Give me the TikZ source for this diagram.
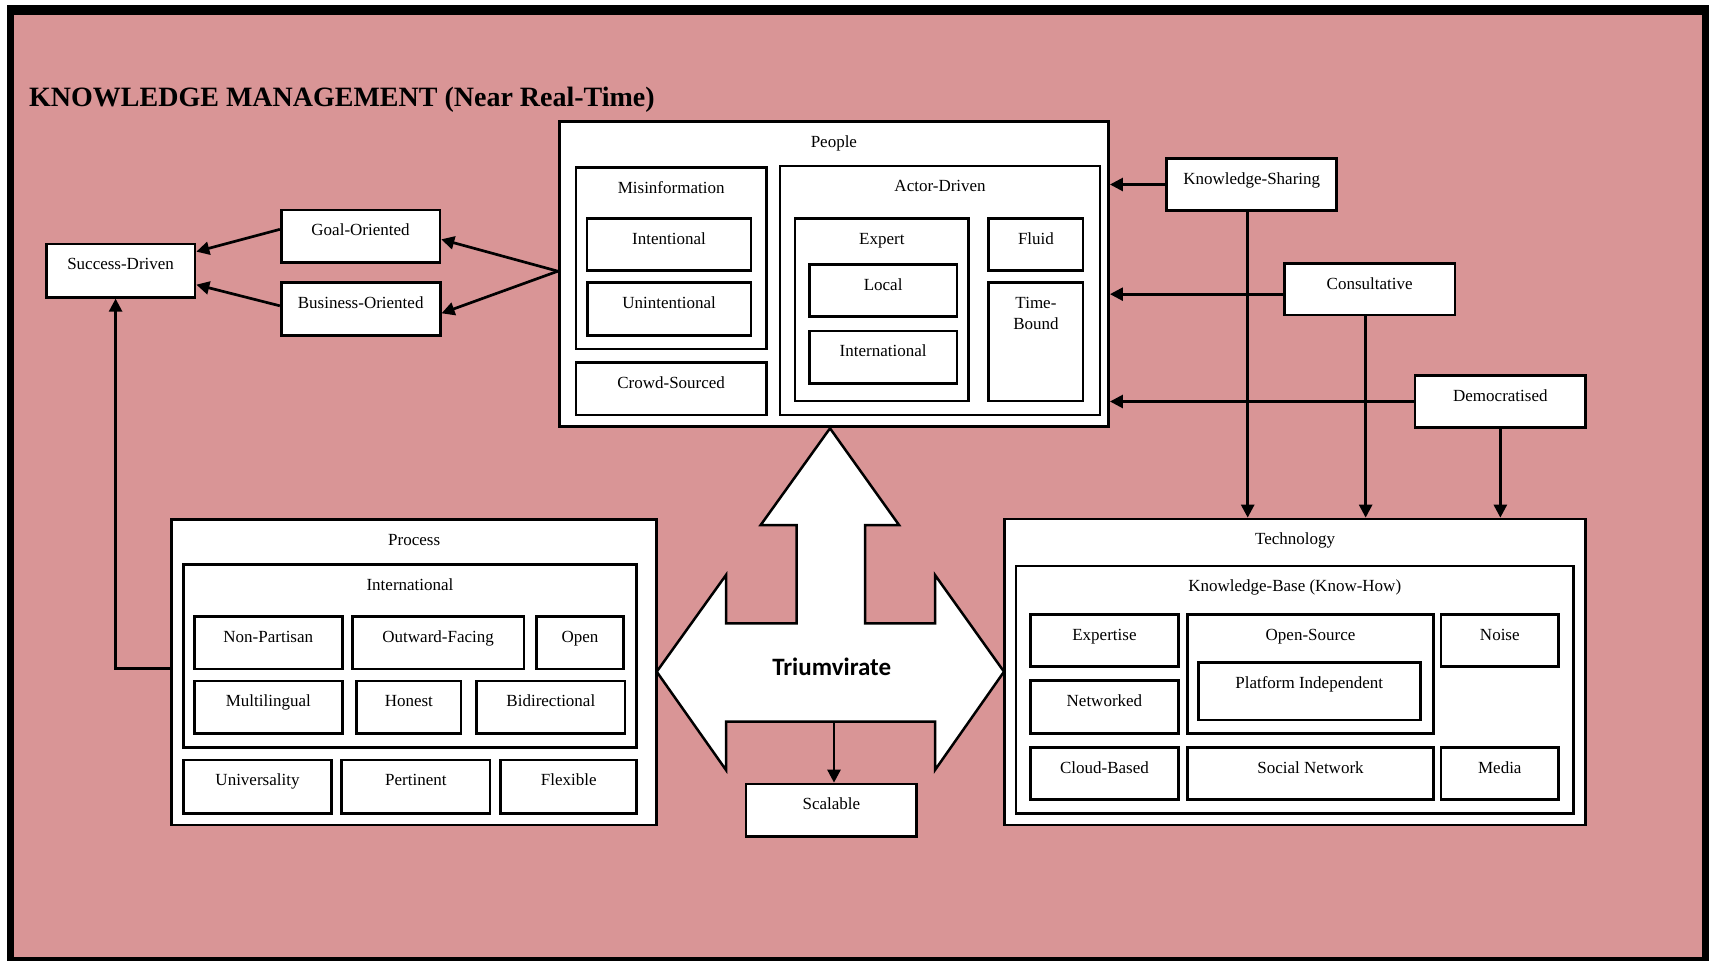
\documentclass[tikz,border=0pt]{standalone}
\usepackage{fontspec}
\setmainfont{Liberation Serif}
\newfontfamily\trifont{Carlito}
\usetikzlibrary{arrows.meta,fit,calc}
\definecolor{bgpink}{RGB}{217,149,150}
\tikzset{
  bx/.style={draw, line width=2.7pt, fill=white, inner sep=0pt},
  lbl/.style={inner sep=0pt, anchor=base, font=\fontsize{17}{21}\selectfont},
  conn/.style={line width=2.7pt, -{Triangle[length=13pt,width=13pt]}},
}
\newcommand\kbox[6]{%
  \node[bx, fit={(#2,#3) (#4,#5)}] (#1) {};
  \node[lbl] (#1t) at ($(#1.north)+(0,27.3)$) {#6};}
\begin{document}
\begin{tikzpicture}[x=1pt,y=-1pt,line join=miter]
\useasboundingbox (0,0) rectangle (1709,961);
\fill[white] (0,0) rectangle (1709,961);
\fill[black] (7,5) rectangle (1709,961);
\fill[bgpink] (13.5,14.5) rectangle (1702,957);

\node[font=\fontsize{28}{32}\bfseries\selectfont, anchor=base west, inner sep=0pt] (title) at (29,106) {KNOWLEDGE MANAGEMENT (Near Real-Time)};

% People
\kbox{pe}{559.2}{121.7}{1108.6}{426.7}{People}
\kbox{mi}{575.9}{167.7}{766.4}{349}{Misinformation}
\kbox{in}{587}{218.3}{750.9}{270.7}{Intentional}
\kbox{un}{587.5}{282.3}{750.9}{335.7}{Unintentional}
\kbox{cr}{575.9}{362.3}{766.4}{415}{Crowd-Sourced}
\kbox{ad}{780.1}{166}{1100.1}{415}{Actor-Driven}
\kbox{ex}{794.9}{218.3}{968.8}{401}{Expert}
\kbox{lo}{809.3}{264.3}{957}{316.7}{Local}
\kbox{it}{809.3}{331}{957}{383.3}{International}
\kbox{fl}{988.8}{218.3}{1083.1}{270.7}{Fluid}
\kbox{tb}{988.8}{282.3}{1083.1}{401}{\begin{tabular}[t]{@{}c@{}}Time-\\Bound\end{tabular}}

% left side
\kbox{sd}{46.2}{244}{195}{297.3}{Success-Driven}
\kbox{go}{281.2}{210}{439.9}{262.7}{Goal-Oriented}
\kbox{bo}{281.2}{282.3}{440.2}{335.3}{Business-Oriented}

% Process
\kbox{pr}{171.7}{519.3}{656.7}{825}{Process}
\kbox{pi}{183.3}{564.3}{636.7}{747.3}{International}
\kbox{np}{194.3}{616.7}{342.3}{669}{Non-Partisan}
\kbox{of}{352.3}{616.7}{524}{669}{Outward-Facing}
\kbox{op}{536.7}{616.7}{623.3}{669}{Open}
\kbox{ml}{194.3}{681}{342.3}{733.3}{Multilingual}
\kbox{ho}{356.7}{681}{461}{733.3}{Honest}
\kbox{bd}{476.7}{681}{625}{733.3}{Bidirectional}
\kbox{uv}{183.3}{760}{331.7}{813.3}{Universality}
\kbox{pt}{341.7}{760}{490}{813.3}{Pertinent}
\kbox{fx}{500.7}{760}{636.7}{813.3}{Flexible}

% Technology
\kbox{te}{1004.6}{519}{1585.5}{825}{Technology}
\kbox{kb}{1016.1}{566}{1573.3}{813.3}{Knowledge-Base (Know-How)}
\kbox{es}{1030.6}{614.3}{1178.3}{666.7}{Expertise}
\kbox{nw}{1030.6}{680.7}{1178.3}{733.3}{Networked}
\kbox{os}{1187.5}{614.3}{1433.6}{733.3}{Open-Source}
\kbox{pf}{1198.2}{662.3}{1420.2}{720}{Platform Independent}
\kbox{no}{1440.9}{614.3}{1558.7}{666.7}{Noise}
\kbox{cb}{1030.6}{747.3}{1178.3}{799.3}{Cloud-Based}
\kbox{sn}{1187.5}{747.3}{1433.6}{799.3}{Social Network}
\kbox{me}{1440.9}{747.3}{1558.7}{799.3}{Media}

% right side
\kbox{ks}{1166.7}{158.3}{1336.7}{210.7}{Knowledge-Sharing}
\kbox{cs}{1284.3}{263.3}{1455}{315}{Consultative}
\kbox{dm}{1415}{375.7}{1585.7}{427.3}{Democratised}

% Scalable
\kbox{sc}{746}{784}{916.7}{836.7}{Scalable}

% Triumvirate arrow
\draw[line width=2.5pt, fill=white] (830,428.3) -- (899,525) -- (865,525) -- (865,623.3) -- (935,623.3) -- (935,575) -- (1004,671.7) -- (935,770) -- (935,721.7) -- (726,721.7) -- (726,770) -- (656.7,671.7) -- (726,575) -- (726,623.3) -- (796.7,623.3) -- (796.7,525) -- (760.7,525) -- cycle;
\node[font=\trifont\fontsize{25}{30}\bfseries\selectfont, anchor=base, inner sep=0pt] (tri) at (831.7,675) {Triumvirate};

% connectors
\draw[conn] ([yshift=3pt]pe.west) -- ([yshift=-3pt]go.east);
\draw[conn] ([yshift=3pt]pe.west) -- ([yshift=-4.5pt]bo.east);
\draw[conn] ([yshift=7pt]go.west) -- ([yshift=19pt]sd.east);
\draw[conn] ([yshift=3pt]bo.west) -- ([yshift=-14pt]sd.east);
\draw[conn] ([yshift=4pt]pr.west) -| ([xshift=-5pt]sd.south);

\coordinate (csw) at ([yshift=-5pt]cs.west);
\draw[conn] (ks.west) -- (ks.west -| pe.east);
\draw[conn] (csw) -- (csw -| pe.east);
\draw[conn] (dm.west) -- (dm.west -| pe.east);

\coordinate (ksb) at ([xshift=-4pt]ks.south);
\coordinate (csb) at ([xshift=-4pt]cs.south);
\draw[conn] (ksb) -- (ksb |- te.north);
\draw[conn] (csb) -- (csb |- te.north);
\draw[conn] (dm.south) -- (dm.south |- te.north);

\coordinate (tbar) at (834,721.7);
\draw[conn] (tbar) -- (tbar |- sc.north);
\end{tikzpicture}
\end{document}
